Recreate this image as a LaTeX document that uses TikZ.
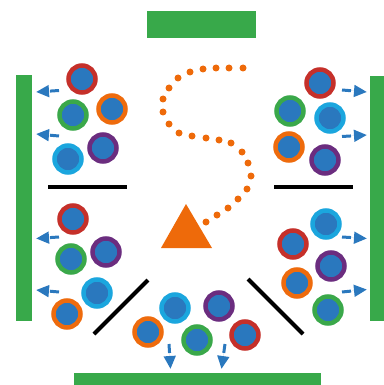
\documentclass[tikz,border=0pt]{standalone}
\usetikzlibrary{arrows.meta}
\definecolor{barG}{HTML}{38A94A}
\definecolor{ballB}{HTML}{2A78BE}
\definecolor{rR}{HTML}{C5302A}
\definecolor{rG}{HTML}{3AA84A}
\definecolor{rO}{HTML}{EE6B0D}
\definecolor{rP}{HTML}{6B2D7F}
\definecolor{rC}{HTML}{1BA6DE}
\definecolor{triO}{HTML}{EE6A0A}
\tikzset{
  bar/.style={fill=barG,draw=none},
  wall/.style={line width=4pt,black},
  ball/.style={circle,minimum size=27pt,inner sep=0pt,fill=ballB,draw=#1,line width=4.5pt},
  flow/.style={draw=ballB,fill=ballB,line width=3pt,dash pattern=on 9pt off 30pt,-{Triangle[length=13pt,width=11.5pt]}},
  dot/.style={circle,fill=triO,inner sep=0pt,minimum size=7pt},
}
\begin{document}
\begin{tikzpicture}[x=1pt,y=-1pt]
\useasboundingbox (0,0) rectangle (383,385);
% bars
\path[bar] (147,11) rectangle (256,38);
\path[bar] (16,75) rectangle (32,321);
\path[bar] (370,76) rectangle (386,321);
\path[bar] (74,373) rectangle (321,388);
% walls
\draw[wall] (48,187) -- (127,187);
\draw[wall] (274,187) -- (353,187);
\draw[wall] (148,280) -- (94,334);
\draw[wall] (248,279) -- (303,334);
% triangle
\fill[triO] (186,204) -- (212,248) -- (161,248) -- cycle;
% dotted curve
\foreach \p [count=\i] in {(243,68),(229,68),(216,68),(203,69),(190,72),(178,78),(169,88),(163,99),(163,112),(169,124),(179,133),(192,136),(206,138),(219,140),(231,143),(242,152),(248,163),(251,176),(247,189),(238,199),(228,208),(217,215),(206,222)}
  \node[dot] (d\i) at \p {};
% top-left group
\node[ball=rR] (tl1) at (82,79) {};
\node[ball=rO] (tl2) at (112,109) {};
\node[ball=rG] (tl3) at (73,115) {};
\node[ball=rP] (tl4) at (103,148) {};
\node[ball=rC] (tl5) at (68,159) {};
% top-right group
\node[ball=rR] (tr1) at (320,83) {};
\node[ball=rG] (tr2) at (290,111) {};
\node[ball=rC] (tr3) at (330,118) {};
\node[ball=rO] (tr4) at (289,147) {};
\node[ball=rP] (tr5) at (325,160) {};
% bottom-left group
\node[ball=rR] (bl1) at (73,219) {};
\node[ball=rP] (bl2) at (106,252) {};
\node[ball=rG] (bl3) at (71,259) {};
\node[ball=rC] (bl4) at (97,293) {};
\node[ball=rO] (bl5) at (67,314) {};
% bottom group
\node[ball=rC] (b1) at (175,308) {};
\node[ball=rP] (b2) at (219,306) {};
\node[ball=rO] (b3) at (148,332) {};
\node[ball=rG] (b4) at (197,340) {};
\node[ball=rR] (b5) at (245,335) {};
% bottom-right group
\node[ball=rC] (br1) at (326,224) {};
\node[ball=rR] (br2) at (293,244) {};
\node[ball=rP] (br3) at (331,266) {};
\node[ball=rO] (br4) at (297,283) {};
\node[ball=rG] (br5) at (328,310) {};
% arrow end points
\coordinate (a1s) at (59,90.5);  \coordinate (a1t) at (36,92);
\coordinate (a2s) at (59,136);   \coordinate (a2t) at (36,134);
\coordinate (a3s) at (59,237);   \coordinate (a3t) at (36,238.5);
\coordinate (a4s) at (59,292);   \coordinate (a4t) at (36,290);
\coordinate (a5s) at (342,90);   \coordinate (a5t) at (367,92);
\coordinate (a6s) at (342,136.5);\coordinate (a6t) at (367,135);
\coordinate (a7s) at (342,237);  \coordinate (a7t) at (367,238.5);
\coordinate (a8s) at (342,292);  \coordinate (a8t) at (367,289.5);
\coordinate (a9s) at (169,344);  \coordinate (a9t) at (170.5,369);
\coordinate (a10s) at (225,344); \coordinate (a10t) at (221.5,369);
\foreach \i in {1,...,10} \draw[flow] (a\i s) -- (a\i t);
\end{tikzpicture}
\end{document}
